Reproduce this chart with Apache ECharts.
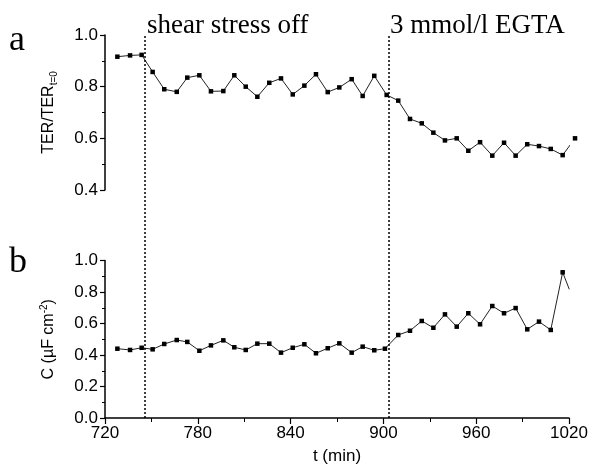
<!DOCTYPE html>
<html>
<head>
<meta charset="utf-8">
<script src="https://cdn.jsdelivr.net/npm/echarts@6/dist/echarts.min.js"></script>
<style>html,body{margin:0;padding:0;background:#fff;}#c{width:595px;height:469px;}</style>
</head>
<body>
<div id="c"></div>
<script>
// time points (min)
const timeTER = [728,736.2,743.7,750.8,758.3,766.4,773.2,781,788.5,796.5,803.6,811,818.5,826.2,833.8,841.4,848.9,856.4,864,871.5,879.5,886.6,894.1,902.1,909.6,917.2,924.8,932.3,939.8,947.4,954.9,962.5,970.4,978,985.5,993,1000.6,1008.2,1015.9,1023.9];
const valuesTER = [0.916,0.921,0.923,0.857,0.79,0.78,0.835,0.844,0.782,0.783,0.844,0.8,0.761,0.815,0.832,0.77,0.804,0.848,0.779,0.797,0.829,0.764,0.842,0.768,0.746,0.675,0.658,0.622,0.592,0.6,0.552,0.585,0.533,0.583,0.533,0.577,0.57,0.559,0.535,0.6];
const timeC = [728,736.2,743.7,750.8,758.3,766.4,773.2,781,788.5,796.5,803.6,811,818.5,826.2,833.8,841.4,848.9,856.4,864,871.5,879.5,886.6,894.1,901,909.6,917.2,924.8,932.3,939.8,947.4,954.9,962.5,970.4,978,985.5,993,1000.6,1008.2,1015.9,1020.2];
const valuesC = [0.44,0.432,0.446,0.436,0.47,0.495,0.483,0.427,0.461,0.493,0.449,0.432,0.472,0.472,0.415,0.446,0.468,0.411,0.443,0.474,0.415,0.453,0.43,0.44,0.527,0.554,0.616,0.573,0.658,0.58,0.665,0.595,0.711,0.665,0.698,0.563,0.612,0.559,0.925,0.817];
const eventTimes = [746, 903.5];
const eventLabels = ['shear stress off', '3 mmol/l EGTA'];
const panelLabels = ['a', 'b'];
const xTicks = [720, 780, 840, 900, 960, 1020];
const yTicksTER = [0.4, 0.6, 0.8, 1.0];
const yTicksC = [0.0, 0.2, 0.4, 0.6, 0.8, 1.0];

const chart = echarts.init(document.getElementById('c'), null, {renderer: 'canvas'});
const sans = 'Liberation Sans, Arial, sans-serif';
const serif = 'Liberation Serif, Times New Roman, serif';
const axLine = {show: true, lineStyle: {color: '#000', width: 1.5}};
const lblFmt = v => v.toFixed(1);

function yAxisCfg(grid, ticks, name) {
  return {
    type: 'value', gridIndex: grid,
    min: ticks[0], max: ticks[ticks.length - 1], interval: 0.2,
    axisLine: axLine,
    axisTick: {show: true, inside: false, length: 5, lineStyle: {color: '#000', width: 1.2}},
    minorTick: {show: true, splitNumber: 2, length: 3, lineStyle: {color: '#000', width: 1}},
    splitLine: {show: false},
    axisLabel: {color: '#000', fontSize: 17, fontFamily: sans, margin: 7, formatter: lblFmt},
    name: name, nameLocation: 'middle', nameGap: 46,
    nameTextStyle: {
      color: '#000', fontFamily: sans, fontSize: 16,
      rich: {
        m: {fontSize: 16, fontFamily: sans, color: '#000', lineHeight: 20},
        s: {fontSize: 10, fontFamily: sans, color: '#000', lineHeight: 10, padding: [10, 0, 0, 0], verticalAlign: 'bottom'},
        u: {fontSize: 10, fontFamily: sans, color: '#000', lineHeight: 10, padding: [0, 0, 10, 0], verticalAlign: 'top'}
      }
    }
  };
}

const lineSeries = (xi, yi, times, vals, hideLast) => ({
  type: 'line', xAxisIndex: xi, yAxisIndex: yi,
  data: times.map((t, i) => {
    const item = {value: [t, vals[i]]};
    if (hideLast && i === times.length - 1) item.symbol = 'none';
    return item;
  }),
  symbol: 'rect', symbolSize: 4.5, showSymbol: true,
  clip: false,
  lineStyle: {color: '#222', width: 1},
  itemStyle: {color: '#000'},
  animation: false, silent: true
});

const option = {
  backgroundColor: '#fff',
  animation: false,
  grid: [
    {left: 105, right: 26, top: 35, height: 155},
    {left: 105, right: 26, top: 260.5, height: 157.5},
    {left: 105, right: 26, top: 36, height: 382}
  ],
  xAxis: [
    {type: 'value', gridIndex: 0, min: xTicks[0], max: xTicks[xTicks.length - 1], show: false},
    {
      type: 'value', gridIndex: 1, min: xTicks[0], max: xTicks[xTicks.length - 1], interval: 60,
      axisLine: axLine,
      axisTick: {show: true, inside: false, length: 6, lineStyle: {color: '#000', width: 1.2}},
      minorTick: {show: true, splitNumber: 2, length: 4, lineStyle: {color: '#000', width: 1}},
      splitLine: {show: false},
      axisLabel: {color: '#000', fontSize: 17, fontFamily: sans, margin: 7, formatter: v => String(v)},
      name: 't (min)', nameLocation: 'middle', nameGap: 30,
      nameTextStyle: {color: '#000', fontSize: 17, fontFamily: sans}
    },
    {type: 'value', gridIndex: 2, min: xTicks[0], max: xTicks[xTicks.length - 1], show: false}
  ],
  yAxis: [
    yAxisCfg(0, yTicksTER, '{m|TER/TER}{s|t=0}'),
    yAxisCfg(1, yTicksC, '{m|C (µF cm}{u|-2}{m|)}'),
    {type: 'value', gridIndex: 2, min: 0, max: 1, show: false}
  ],
  series: [
    lineSeries(0, 0, timeTER, valuesTER, false),
    lineSeries(1, 1, timeC, valuesC, true),
    {
      type: 'line', xAxisIndex: 2, yAxisIndex: 2, data: [],
      markLine: {
        silent: true, symbol: ['none', 'none'], animation: false,
        label: {show: false},
        lineStyle: {color: '#000', width: 1.5, type: [2, 2]},
        data: eventTimes.map(t => ({xAxis: t}))
      }
    }
  ],
  graphic: [
    {type: 'text', left: 147, top: 12, style: {text: eventLabels[0], font: '27px ' + serif, fill: '#000'}},
    {type: 'text', left: 390, top: 12, style: {text: eventLabels[1], font: '27px ' + serif, fill: '#000'}},
    {type: 'text', left: 9, top: 23, style: {text: panelLabels[0], font: '36px ' + serif, fill: '#000'}},
    {type: 'text', left: 9, top: 245, style: {text: panelLabels[1], font: '36px ' + serif, fill: '#000'}}
  ]
};
chart.setOption(option);
</script>
</body>
</html>
